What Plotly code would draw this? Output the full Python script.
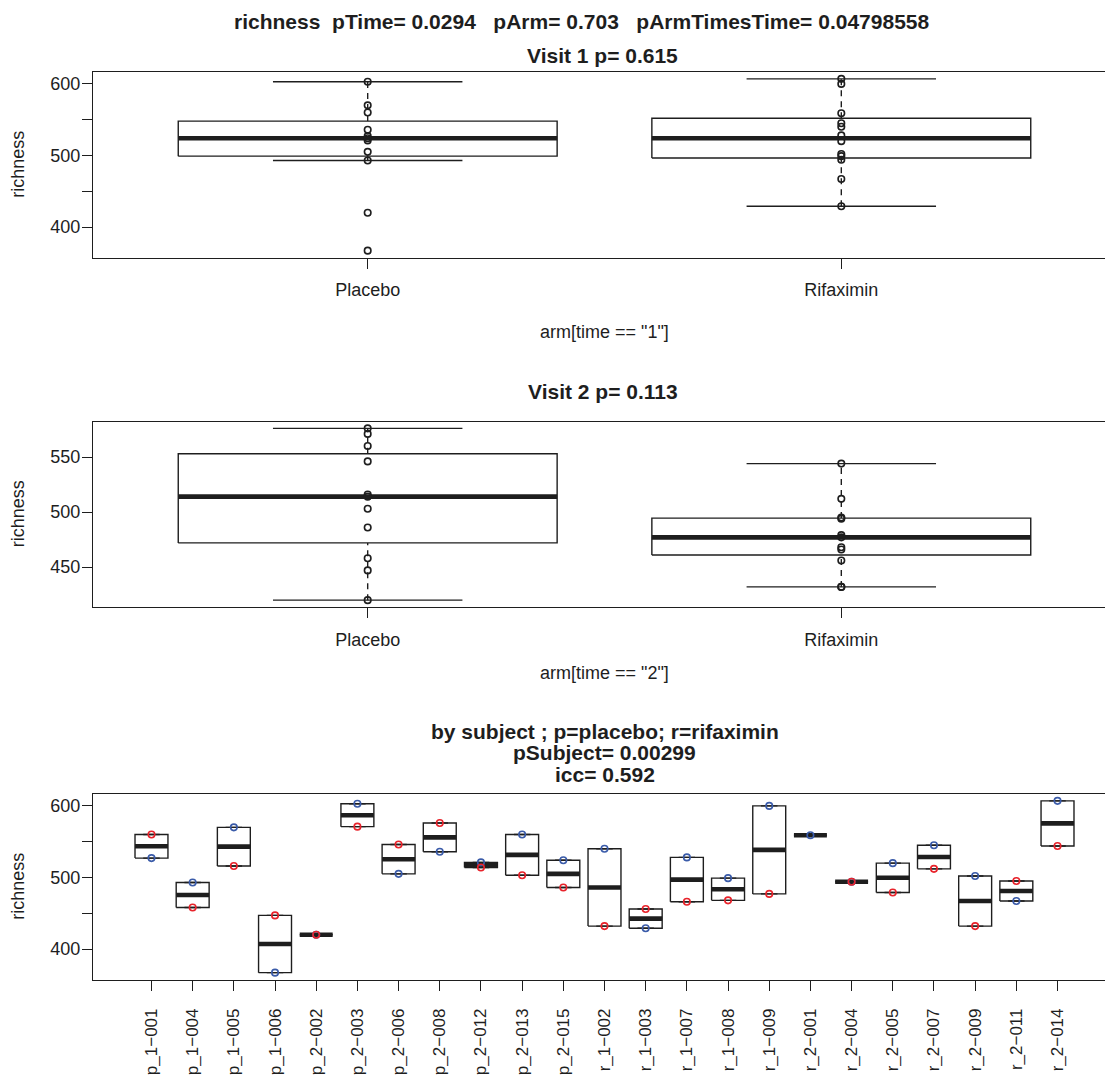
import math
import plotly.graph_objects as go

# ---------------- data ----------------
subjects = ["p_1−001", "p_1−004", "p_1−005", "p_1−006", "p_2−002", "p_2−003",
            "p_2−006", "p_2−008", "p_2−012", "p_2−013", "p_2−015", "r_1−002",
            "r_1−003", "r_1−007", "r_1−008", "r_1−009", "r_2−001", "r_2−004",
            "r_2−005", "r_2−007", "r_2−009", "r_2−011", "r_2−014"]
richness_visit1 = [527, 493, 570, 367, 420, 603, 505, 536, 521, 560, 524,
                   540, 429, 528, 499, 600, 559, 494, 520, 545, 502, 467, 607]
richness_visit2 = [560, 458, 516, 447, 420, 571, 546, 576, 514, 503, 486,
                   432, 456, 466, 468, 477, None, 494, 479, 512, 432, 495, 544]
arms = ["Placebo", "Rifaximin"]
arm_prefix = {"p": "Placebo", "r": "Rifaximin"}

main_title = "richness  pTime= 0.0294   pArm= 0.703   pArmTimesTime= 0.04798558"
visit_titles = ["Visit 1 p= 0.615", "Visit 2 p= 0.113"]
visit_xlabels = ['arm[time == "1"]', 'arm[time == "2"]']
subject_title_lines = ["by subject ; p=placebo; r=rifaximin", "pSubject= 0.00299", "icc= 0.592"]
ylabel = "richness"
ticks_full = [400, 450, 500, 550, 600]
ticktext_full = ["400", "", "500", "", "600"]
ticks_v2 = [450, 500, 550]

# ---------------- style / layout ----------------
PAGE_W, PAGE_H = 1113, 1075
OFF = 8                                   # default page-body margin of the html page
W, H = PAGE_W - OFF, PAGE_H - OFF
FONT = "Liberation Sans, Arial, Helvetica, sans-serif"
INK = "#1e1e1e"
RED = "#e8232b"
BLUE = "#3a5ba9"
AX_FS = 18
ROT_FS = 17
TITLE_FS = 21
LW = 1.4
MED_LW = 4.6
PLOT_L, PLOT_R = 93, 1116          # plot-region edges (page px); right edge lies outside the page
PANELS_Y = [(72, 257.5), (421.5, 607), (794, 979.5)]


def px(x):
    return (x - OFF) / W


def py(y):
    return 1 - (y - OFF) / H


def fivenum(v):
    x = sorted(v)
    n = len(x)
    n4 = math.floor((n + 3) / 2) / 2
    d = [1, n4, (n + 1) / 2, n + 1 - n4, n]
    return [0.5 * (x[math.floor(di) - 1] + x[math.ceil(di) - 1]) for di in d]


def boxstats(v, coef=1.5):
    s = fivenum(v)
    iqr = s[3] - s[1]
    inside = [a for a in v if s[1] - coef * iqr <= a <= s[3] + coef * iqr]
    s[0], s[4] = min(inside), max(inside)
    return s


def ext_range(vals):
    lo, hi = min(vals), max(vals)
    d = 0.04 * (hi - lo)
    return [lo - d, hi + d]


def x_range(n):
    lo, hi = 0.5 - 0.04 * n, n + 0.5 + 0.04 * n
    vis = lo + (hi - lo) * (PAGE_W - PLOT_L) / (PLOT_R - PLOT_L)
    return [lo, vis]


fig = go.Figure()


def add_boxes(groups, xa, ya, wid=0.4, staplewex=0.5):
    bx, by, mx, my, wx, wy, sx, sy = [], [], [], [], [], [], [], []
    for i, vals in enumerate(groups, start=1):
        s = boxstats(vals)
        bx += [i - wid, i + wid, i + wid, i - wid, i - wid, None]
        by += [s[1], s[1], s[3], s[3], s[1], None]
        mx += [i - wid, i + wid, None]
        my += [s[2], s[2], None]
        wx += [i, i, None, i, i, None]
        wy += [s[0], s[1], None, s[3], s[4], None]
        sx += [i - wid * staplewex, i + wid * staplewex, None] * 2
        sy += [s[0], s[0], None, s[4], s[4], None]
    common = dict(xaxis=xa, yaxis=ya, mode="lines", hoverinfo="skip", showlegend=False)
    fig.add_trace(go.Scatter(x=wx, y=wy, line=dict(color=INK, width=LW, dash="6px,5px"), **common))
    fig.add_trace(go.Scatter(x=sx, y=sy, line=dict(color=INK, width=LW), **common))
    fig.add_trace(go.Scatter(x=bx, y=by, line=dict(color=INK, width=LW), **common))
    fig.add_trace(go.Scatter(x=mx, y=my, line=dict(color=INK, width=MED_LW), **common))


def add_points(xs, ys, color, xa, ya):
    fig.add_trace(go.Scatter(x=xs, y=ys, xaxis=xa, yaxis=ya, mode="markers",
                             marker=dict(symbol="circle-open", size=6.5, color=color,
                                         line=dict(width=1.6, color=color)),
                             hoverinfo="skip", showlegend=False))


# ---- panels 1 & 2 : by arm for each visit ----
for k, visit in enumerate([richness_visit1, richness_visit2]):
    xa, ya = ("x", "y") if k == 0 else ("x2", "y2")
    groups = []
    for arm in arms:
        groups.append([v for s, v in zip(subjects, visit) if v is not None and arm_prefix[s[0]] == arm])
    add_boxes(groups, xa, ya)
    pxs, pys = [], []
    for i, g in enumerate(groups, start=1):
        pxs += [i] * len(g)
        pys += g
    add_points(pxs, pys, INK, xa, ya)

# ---- panel 3 : by subject ----
subj_groups = [[v for v in (a, b) if v is not None] for a, b in zip(richness_visit1, richness_visit2)]
add_boxes(subj_groups, "x3", "y3")
idx = list(range(1, len(subjects) + 1))
add_points(idx, richness_visit1, BLUE, "x3", "y3")
add_points([i for i, v in zip(idx, richness_visit2) if v is not None],
           [v for v in richness_visit2 if v is not None], RED, "x3", "y3")

# ---------------- axes ----------------
all1 = [v for v in richness_visit1]
all2 = [v for v in richness_visit2 if v is not None]
all3 = all1 + all2
yranges = [ext_range(all1), ext_range(all2), ext_range(all3)]
xdomain = [px(PLOT_L), 1.0]

axis_common = dict(showgrid=False, zeroline=False, showline=True, linecolor=INK, linewidth=LW,
                   ticks="outside", ticklen=10, tickwidth=LW, tickcolor=INK)

layout = dict(width=W, height=H, margin=dict(l=0, r=0, t=0, b=0),
              paper_bgcolor="white", plot_bgcolor="white", showlegend=False)

for k in range(3):
    top, bot = PANELS_Y[k]
    sfx = "" if k == 0 else str(k + 1)
    n = 2 if k < 2 else len(subjects)
    xa = dict(axis_common, domain=xdomain, range=x_range(n), anchor="y" + sfx, mirror=True,
              tickmode="array", tickvals=list(range(1, n + 1)),
              ticktext=arms if k < 2 else subjects,
              tickfont=dict(family=FONT, size=AX_FS if k < 2 else ROT_FS, color=INK),
              tickangle=0 if k < 2 else -90, ticklabelstandoff=6 if k < 2 else 11)
    if k == 1:
        yt, ytt = ticks_v2, [str(t) for t in ticks_v2]
    else:
        yt, ytt = ticks_full, ticktext_full
    ya = dict(axis_common, domain=[py(bot), py(top)], range=yranges[k], anchor="x" + sfx,
              mirror=False, tickmode="array", tickvals=yt, ticktext=ytt,
              tickfont=dict(family=FONT, size=AX_FS, color=INK), ticklabelstandoff=-2)
    layout["xaxis" + sfx] = xa
    layout["yaxis" + sfx] = ya

# ---------------- texts ----------------
ann = []


def text(t, x, y, size, bold=False, angle=0):
    ann.append(dict(text="<b>%s</b>" % t if bold else t, x=px(x), y=py(y), xref="paper", yref="paper",
                    xanchor="center", yanchor="middle", showarrow=False, textangle=angle,
                    borderpad=0, font=dict(family=FONT, size=size, color=INK)))


CX = (PLOT_L + PLOT_R) / 2
text(main_title, 581, 21, TITLE_FS, bold=True)
text(visit_titles[0], CX - 2, 55, TITLE_FS, bold=True)
text(visit_titles[1], CX - 2, 391, TITLE_FS, bold=True)
text(visit_xlabels[0], CX, 332, AX_FS)
text(visit_xlabels[1], CX, 673, AX_FS)
for j, line in enumerate(subject_title_lines):
    text(line, CX, 731 + 21.5 * j, TITLE_FS, bold=True)
for top, bot in PANELS_Y:
    text(ylabel, 18, (top + bot) / 2, AX_FS, angle=-90)

layout["annotations"] = ann
fig.update_layout(**layout)
fig.write_html("out.html")
